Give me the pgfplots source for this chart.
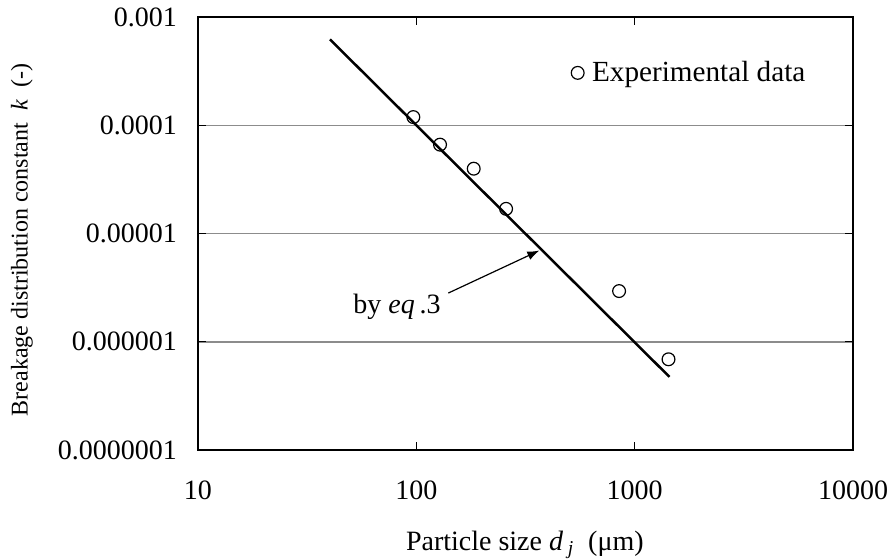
\documentclass[border=0pt]{standalone}
\usepackage{fontspec}
\setmainfont{Liberation Serif}
\usepackage{pgfplots}
\pgfplotsset{compat=1.18}
\usetikzlibrary{arrows.meta}
\begin{document}
\begin{tikzpicture}
\begin{loglogaxis}[
  scale only axis,
  width=327.5pt, height=216.5pt,
  xmin=10, xmax=10000, ymin=1e-7, ymax=1e-3,
  xtick={10,100,1000,10000},
  xticklabels={10,100,1000,10000},
  ytick={1e-7,1e-6,1e-5,1e-4,1e-3},
  yticklabels={0.0000001,0.000001,0.00001,0.0001,0.001},
  xminorticks=false, yminorticks=false,
  ymajorgrids,
  major grid style={draw=gray!90, line width=0.75pt},
  tick align=inside,
  major tick length=4pt,
  tick style={black, line width=0.5pt},
  axis line style={line width=0.75pt},
  ticklabel style={font=\fontsize{14}{17}\selectfont},
  xticklabel style={yshift=-12pt},
  yticklabel style={xshift=-7pt},
  xlabel={Particle size \textit{d}\,\textsubscript{\textit{j}}~~(μm)},
  ylabel={Breakage distribution constant~~\textit{k}~~(-)},
  every axis x label/.style={at={(axis description cs:0.499,-0.231)}, anchor=base, font=\fontsize{14}{17}\selectfont},
  every axis y label/.style={at={(axis description cs:-0.269,0.485)}, rotate=90, anchor=center, font=\fontsize{12}{15}\selectfont},
  legend style={draw=none, fill=none, at={(0.937,0.871)}, anchor=east, font=\fontsize{14.6}{17}\selectfont, inner sep=1pt},
  legend cell align=left,
  clip=false,
]
\addplot[black, line width=1.25pt, forget plot] coordinates {(40.2,6.22e-4) (1443,4.74e-7)};
\addplot[only marks, mark=o, mark size=3.2pt, mark options={line width=0.6pt, black, fill=white}] coordinates {
(96.9,1.19e-4) (128.4,6.62e-5) (183.2,3.97e-5) (257.7,1.69e-5) (848.5,2.94e-6) (1429,6.89e-7)};
\addlegendentry{\hspace{2pt}Experimental data}
\draw[-{Latex[length=6pt,width=4.5pt]}, line width=0.6pt] (axis cs:140.2,2.82e-6) -- (axis cs:366,6.96e-6);
\node[anchor=base east, font=\fontsize{14}{17}\selectfont, inner sep=0pt] at (axis cs:129.7,1.82e-6) {by \textit{eq}\,.3};
\end{loglogaxis}
\pgfresetboundingbox
\path ([shift={(-99pt,-54pt)}]current axis.south west) rectangle ([shift={(17.5pt,8.5pt)}]current axis.north east);
\end{tikzpicture}
\end{document}
